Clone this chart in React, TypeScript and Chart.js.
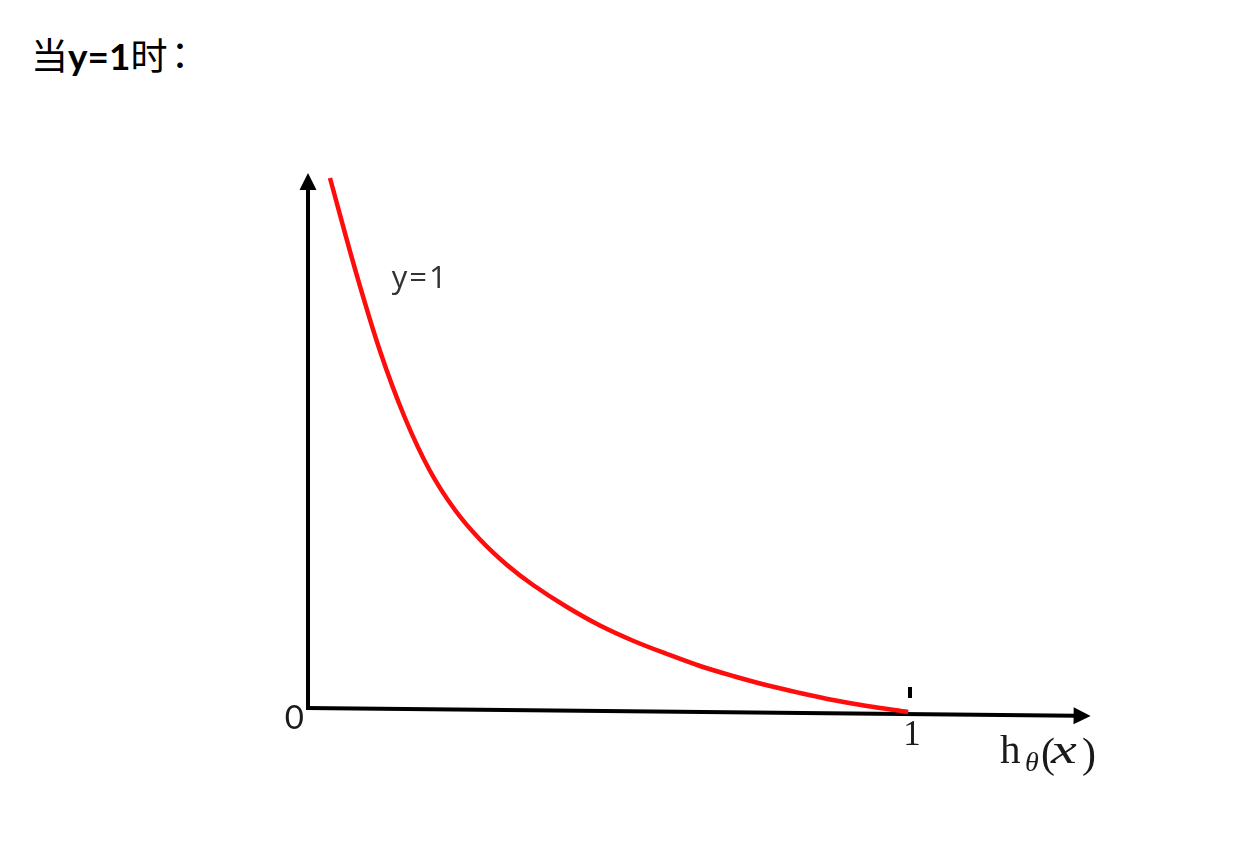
import React, { useEffect, useRef } from 'react';
import { Chart, registerables } from 'chart.js';

Chart.register(...registerables);

// h_theta(x) values (x axis) and cost values
const hTheta = [0.0365, 0.0781, 0.1196, 0.1611, 0.2027, 0.2442, 0.2857, 0.3306, 0.3738, 0.4302, 0.485, 0.54, 0.5963, 0.6512, 0.706, 0.7625, 0.8173, 0.8721, 0.9286, 0.997];
const cost = [5.3, 4.39, 3.57, 2.9, 2.37, 1.98, 1.685, 1.43, 1.23, 1.01, 0.825, 0.673, 0.54, 0.42, 0.32, 0.227, 0.15, 0.08, 0.02, -0.04];

const xRange = [0, 1.3];
const yRange = [-0.1, 5.35];
const xAxisEndDrop = -0.08; // the drawn x axis sinks a little to the right
const tickValues = [0, 1];
const tickLabels = ['0', '1'];
const curveLabel = 'y=1';
const curveLabelAt = [0.139, 4.2];

const axesPlugin = {
  id: 'handAxes',
  beforeDatasetsDraw(chart: any) {
    const { ctx } = chart;
    const xs = chart.scales.x;
    const ys = chart.scales.y;
    ctx.save();
    ctx.strokeStyle = '#000';
    ctx.fillStyle = '#000';
    ctx.lineWidth = 4;
    ctx.lineCap = 'butt';

    // y axis
    const x0 = xs.getPixelForValue(0);
    const yBottom = ys.getPixelForValue(0) + 2;
    const yTop = ys.getPixelForValue(yRange[1]);
    ctx.beginPath();
    ctx.moveTo(x0, yBottom);
    ctx.lineTo(x0, yTop + 14);
    ctx.stroke();
    ctx.beginPath();
    ctx.moveTo(x0, yTop);
    ctx.lineTo(x0 - 8.5, yTop + 17);
    ctx.lineTo(x0 + 8.5, yTop + 17);
    ctx.closePath();
    ctx.fill();

    // x axis
    const ax = xs.getPixelForValue(xRange[0]) - 2;
    const ay = ys.getPixelForValue(0);
    const bx = xs.getPixelForValue(xRange[1]);
    const by = ys.getPixelForValue(xAxisEndDrop);
    const ang = Math.atan2(by - ay, bx - ax);
    const L = 17, W = 8.5;
    const cx = bx - L * Math.cos(ang);
    const cy = by - L * Math.sin(ang);
    ctx.beginPath();
    ctx.moveTo(ax, ay);
    ctx.lineTo(cx + 2 * Math.cos(ang), cy + 2 * Math.sin(ang));
    ctx.stroke();
    ctx.beginPath();
    ctx.moveTo(bx, by);
    ctx.lineTo(cx - W * Math.sin(ang), cy + W * Math.cos(ang));
    ctx.lineTo(cx + W * Math.sin(ang), cy - W * Math.cos(ang));
    ctx.closePath();
    ctx.fill();

    // tick mark at 1
    const t1 = xs.getPixelForValue(tickValues[1]);
    ctx.fillRect(t1 - 2, ys.getPixelForValue(0.21), 4, 11);

    // tick labels
    ctx.fillStyle = '#1a1a1a';
    ctx.font = '33px Lato, "Open Sans", sans-serif';
    ctx.textAlign = 'right';
    ctx.textBaseline = 'alphabetic';
    ctx.fillText(tickLabels[0], x0 - 4, ay + 21);

    ctx.font = '35px "Liberation Serif", "DejaVu Serif", serif';
    ctx.textAlign = 'center';
    ctx.fillText(tickLabels[1], t1 + 2, ay + 37);

    // axis title h_theta(x)
    const base = ay + 55;
    ctx.textAlign = 'left';
    ctx.font = '41px "Liberation Serif", serif';
    ctx.fillText('h', t1 + 90, base);
    ctx.font = 'italic 28px "Liberation Serif", serif';
    ctx.fillText('θ', t1 + 115, base + 8);
    ctx.font = '42px "Liberation Serif", serif';
    ctx.fillText('(', t1 + 131, base + 4);
    ctx.save();
    ctx.translate(t1 + 141, base);
    ctx.scale(1.35, 1);
    ctx.font = 'italic 43px "Liberation Serif", serif';
    ctx.fillText('x', 0, 0);
    ctx.restore();
    ctx.font = '42px "Liberation Serif", serif';
    ctx.fillText(')', t1 + 172, base + 4);

    // curve label
    ctx.fillStyle = '#333';
    ctx.font = '31px "Open Sans", Lato, sans-serif';
    (ctx as any).letterSpacing = '2px';
    ctx.textAlign = 'left';
    ctx.fillText(curveLabel, xs.getPixelForValue(curveLabelAt[0]), ys.getPixelForValue(curveLabelAt[1]));
    (ctx as any).letterSpacing = '0px';
    ctx.restore();
  },
};

export default function App() {
  const ref = useRef<HTMLCanvasElement>(null);
  useEffect(() => {
    if (!ref.current) return;
    const chart = new Chart(ref.current, {
      type: 'line',
      data: {
        datasets: [
          {
            label: curveLabel,
            data: hTheta.map((x, i) => ({ x, y: cost[i] })),
            borderColor: '#ff0d0d',
            borderWidth: 4.5,
            pointRadius: 0,
            tension: 0.35,
            fill: false,
            clip: false as any,
          },
        ],
      },
      options: {
        responsive: false,
        animation: false,
        layout: { padding: { left: 308, right: 159.4, top: 173, bottom: 128 } },
        scales: {
          x: { type: 'linear', min: xRange[0], max: xRange[1], display: false },
          y: { type: 'linear', min: yRange[0], max: yRange[1], display: false },
        },
        plugins: { legend: { display: false }, tooltip: { enabled: false }, title: { display: false } },
      },
      plugins: [axesPlugin],
    });
    return () => chart.destroy();
  }, []);

  return (
    <div style={{ position: 'fixed', left: 0, top: 0, width: 1250, height: 846, background: '#fff' }}>
      <div
        style={{
          position: 'absolute',
          left: 31,
          top: 28,
          fontSize: 37,
          lineHeight: '52px',
          color: '#000',
          whiteSpace: 'nowrap',
        }}
      >
        <span style={{ fontFamily: '"Noto Sans CJK SC"', fontWeight: 400 }}>当</span>
        <span style={{ fontFamily: 'Lato, "Open Sans", sans-serif', fontWeight: 700, fontSize: 37 }}>y=1</span>
        <span style={{ fontFamily: '"Noto Sans CJK SC"', fontWeight: 400 }}>时</span>
        <span style={{ fontFamily: '"Noto Sans CJK TC"', fontWeight: 400, marginLeft: -6 }}>：</span>
      </div>
      <canvas ref={ref} width={1250} height={846} style={{ position: 'absolute', left: 0, top: 0 }} />
    </div>
  );
}
